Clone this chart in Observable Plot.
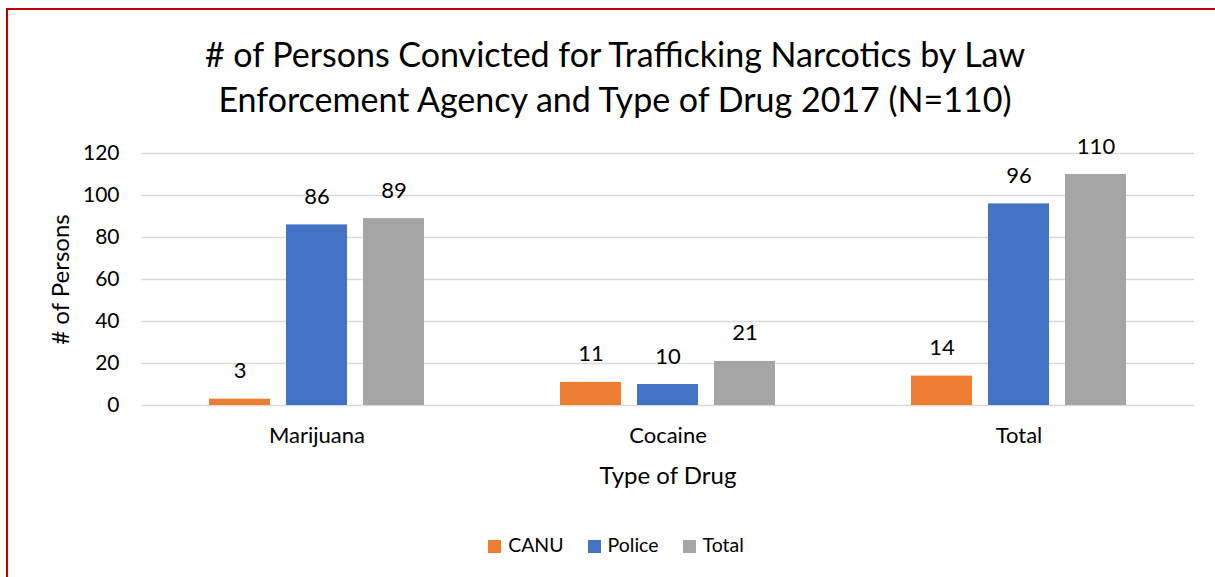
<!DOCTYPE html>
<html>
<head>
<meta charset="utf-8">
<script src="https://cdn.jsdelivr.net/npm/d3@7"></script>
<script src="https://cdn.jsdelivr.net/npm/@observablehq/plot@0.6"></script>
<style>
  html, body { margin: 0; padding: 0; background: #fff; overflow: hidden; }
  body { width: 1215px; height: 577px; position: relative; font-family: Lato, "Open Sans", sans-serif; color: #000; }
  #frame { position: absolute; left: 6px; top: 8px; width: 1400px; height: 800px; border: 2px solid #C00000; box-sizing: border-box; }
  #title { position: absolute; left: 0; top: 31px; width: 1230px; text-align: center; font-size: 34px; line-height: 45px; color: #000; }
  #chart { position: absolute; left: 0; top: 120px; }
  #legend { position: absolute; left: 0; top: 533px; width: 1232px; text-align: center; font-size: 19.5px; }
  #legend span.item { display: inline-block; margin: 0 12px; }
  #legend span.sw { display: inline-block; width: 13px; height: 13px; margin-right: 7px; vertical-align: -1px; }
</style>
</head>
<body>
<div id="frame"></div>
<div id="title"># of Persons Convicted for Trafficking Narcotics by Law<br>Enforcement Agency and Type of Drug 2017 (N=110)</div>
<div id="chart"></div>
<div id="legend"></div>
<script>
const drugs = ["Marijuana", "Cocaine", "Total"];
const series = ["CANU", "Police", "Total"];
const colors = ["#ED7D31", "#4472C4", "#A5A5A5"];
const canuValues = [3, 11, 14];
const policeValues = [86, 10, 96];
const totalValues = [89, 21, 110];
const yTicks = [0, 20, 40, 60, 80, 100, 120];

const valuesBySeries = [canuValues, policeValues, totalValues];
const data = [];
drugs.forEach((d, i) => {
  series.forEach((s, j) => {
    data.push({drug: d, series: s, value: valuesBySeries[j][i]});
  });
});

const chart = Plot.plot({
  width: 1215,
  height: 380,
  marginTop: 33,
  marginBottom: 95,
  marginLeft: 140,
  marginRight: 21,
  style: {fontFamily: "Lato, 'Open Sans', sans-serif", fontSize: "21px", color: "#000", background: "transparent"},
  fx: {domain: drugs, padding: 0, axis: null},
  x: {domain: series, axis: null, paddingInner: 0.208, paddingOuter: 0.883},
  y: {domain: [0, 120], ticks: yTicks, axis: null},
  color: {domain: series, range: colors},
  marks: [
    Plot.gridY(yTicks, {stroke: "#d9d9d9", strokeOpacity: 1, strokeWidth: 1.5}),
    Plot.barY(data, {fx: "drug", x: "series", y: "value", fill: "series"}),
    Plot.text(data, {fx: "drug", x: "series", y: "value", text: d => String(d.value), dy: -28, fontSize: 22, fill: "#000"}),
    Plot.axisY(yTicks, {anchor: "left", tickSize: 0, tickPadding: 22, fontSize: 21, label: null}),
    Plot.axisFx({anchor: "bottom", tickSize: 0, tickPadding: 22, fontSize: 22, label: null}),
    Plot.text(["# of Persons"], {frameAnchor: "left", textAnchor: "middle", dx: -80, rotate: -90, fontSize: 24, fill: "#000", facet: "super"}),
    Plot.text(["Type of Drug"], {frameAnchor: "bottom", dy: 78, fontSize: 24, fill: "#000", facet: "super"})
  ]
});
document.getElementById("chart").appendChild(chart);

const legend = document.getElementById("legend");
series.forEach((s, i) => {
  const item = document.createElement("span");
  item.className = "item";
  const sw = document.createElement("span");
  sw.className = "sw";
  sw.style.background = colors[i];
  item.appendChild(sw);
  item.appendChild(document.createTextNode(s));
  legend.appendChild(item);
});
</script>
</body>
</html>
